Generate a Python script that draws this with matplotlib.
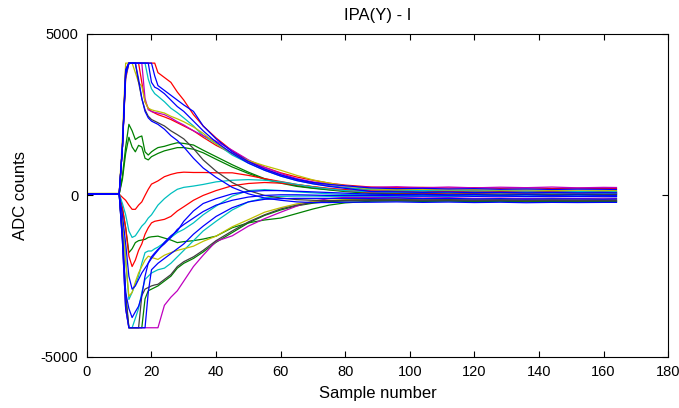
import numpy as np
import matplotlib
matplotlib.use('Agg')
import matplotlib.pyplot as plt

plt.rcParams['axes.unicode_minus'] = False
plt.rcParams['font.family'] = ['Liberation Sans', 'DejaVu Sans']

sample = [0, 10, 11, 12, 13, 14, 15, 16, 17, 18, 19, 20, 21, 22,
          24, 26, 28, 30, 33, 36, 40, 45, 50, 55, 60, 65, 70, 75, 80,
          88, 96, 104, 112, 120, 128, 136, 144, 152, 160, 164]

# positive traces (saturating at +4095)
red_hi = [40, 40, 1500, 3600, 4095, 4095, 4095, 4095, 4095, 4095, 4095, 4095, 4095, 3800,
          3650, 3500, 3200, 2950, 2500, 2150, 1780, 1380, 1080, 870, 700, 570, 470, 380, 320,
          260, 240, 250, 230, 240, 220, 235, 215, 225, 215, 210]
blue_hi = [50, 50, 1500, 3700, 4095, 4095, 4095, 4095, 4095, 4095, 4095, 4095, 3700, 3400,
           3250, 3100, 2950, 2800, 2600, 2150, 1750, 1350, 1050, 820, 640, 500, 400, 340, 300,
           230, 210, 220, 200, 210, 190, 200, 185, 195, 190, 185]
blue_hi2 = [50, 50, 1500, 3800, 4095, 4095, 4095, 4095, 4095, 4095, 4095, 3500, 3350, 3300,
            3150, 2950, 2750, 2600, 2300, 2000, 1650, 1300, 1000, 780, 600, 460, 360, 280, 220,
            120, 110, 95, 105, 85, 95, 80, 90, 80, 85, 80]
cyan_hi = [40, 40, 1500, 3700, 4095, 4095, 4095, 4095, 4095, 4095, 3600, 3300, 3150, 3070,
           2900, 2700, 2560, 2400, 2150, 1850, 1600, 1250, 1000, 780, 600, 460, 360, 290, 240,
           180, 165, 150, 160, 140, 150, 135, 145, 125, 135, 125]
mag_hi = [50, 50, 1500, 3800, 4095, 4095, 4095, 4095, 4095, 3000, 2650, 2600, 2570, 2550,
          2500, 2400, 2280, 2180, 2000, 1850, 1680, 1400, 1100, 870, 680, 520, 420, 350, 290,
          250, 270, 240, 260, 235, 255, 240, 260, 235, 250, 245]
yel_hi = [60, 60, 1800, 4095, 4095, 4095, 3800, 3500, 3380, 2900, 2700, 2650, 2620, 2600,
          2550, 2450, 2370, 2280, 2120, 1920, 1600, 1300, 1080, 920, 780, 620, 480, 380, 300,
          200, 180, 190, 170, 180, 165, 175, 155, 165, 160, 150]
red_mid = [50, 50, 1500, 3900, 4095, 4095, 4095, 4095, 3500, 2900, 2700, 2600, 2550, 2500,
           2430, 2350, 2250, 2150, 2000, 1800, 1550, 1300, 1050, 820, 630, 480, 380, 300, 240,
           170, 150, 160, 135, 145, 125, 135, 115, 125, 115, 115]
blue_fast = [40, 40, 1500, 3900, 4095, 4095, 4095, 3600, 3000, 2600, 2400, 2300, 2250, 2200,
             2050, 1850, 1700, 1500, 1150, 850, 560, 250, 50, -80, -150, -200, -220, -220, -210,
             -210, -200, -215, -205, -220, -210, -225, -215, -220, -215, -215]
black_fast = [50, 50, 1500, 3800, 4095, 4095, 4095, 3500, 3000, 2650, 2450, 2350, 2300, 2250,
              2150, 2000, 1880, 1750, 1450, 1100, 750, 400, 150, 0, -80, -130, -150, -160, -160,
              -150, -140, -155, -145, -160, -150, -165, -155, -165, -160, -165]
green_a = [50, 50, 600, 1500, 2200, 2000, 1730, 1800, 1840, 1350, 1250, 1350, 1420, 1480,
           1520, 1580, 1630, 1610, 1560, 1400, 1200, 950, 720, 520, 400, 300, 230, 180, 140,
           80, 65, 70, 55, 60, 45, 55, 40, 50, 40, 40]
green_b = [40, 40, 500, 1300, 1800, 1500, 1350, 1550, 1500, 1150, 1100, 1200, 1250, 1300,
           1380, 1430, 1480, 1480, 1430, 1320, 1120, 880, 680, 500, 380, 280, 220, 170, 120,
           60, 50, 45, 50, 35, 45, 30, 40, 30, 35, 30]
red_low = [40, 40, -60, -150, -300, -430, -430, -300, -200, 0, 190, 350, 400, 450,
           580, 650, 700, 720, 710, 710, 700, 700, 620, 520, 430, 340, 270, 200, 150,
           90, 80, 75, 70, 75, 60, 70, 55, 65, 55, 55]
cyan_low = [50, 50, -250, -600, -1100, -1300, -1250, -1100, -950, -850, -700, -600, -450, -300,
            -100, 60, 190, 250, 290, 340, 420, 470, 490, 470, 420, 340, 260, 200, 150,
            110, 95, 100, 85, 90, 75, 85, 70, 80, 70, 70]
red_neg = [50, 50, -400, -1000, -1880, -2200, -2000, -1700, -1500, -1200, -1000, -850, -800, -780,
           -740, -650, -480, -350, -150, 0, 150, 300, 370, 400, 380, 330, 270, 220, 180,
           140, 120, 130, 110, 120, 100, 110, 95, 105, 95, 95]

# negative traces (saturating at -4095)
blue_neg = [40, 40, -600, -1500, -2500, -2900, -2800, -2600, -2400, -2250, -2100, -1950, -1820, -1700,
            -1450, -1250, -1100, -800, -480, -250, -100, 50, 120, 150, 150, 130, 110, 90, 70,
            40, 25, 35, 20, 25, 10, 20, 5, 15, 5, 5]
cyan_neg = [50, 50, -800, -2000, -3220, -3000, -2750, -2500, -2100, -1770, -1720, -1720, -1650, -1600,
            -1460, -1300, -1150, -1050, -850, -600, -330, -20, 150, 180, 150, 110, 80, 50, 30,
            20, 10, 0, 10, -10, 0, -15, -5, -15, -5, -10]
green_neg = [50, 50, -400, -1000, -1770, -1650, -1460, -1400, -1380, -1360, -1300, -1280, -1270, -1260,
             -1320, -1380, -1460, -1430, -1400, -1350, -1260, -1000, -850, -760, -700, -560, -420, -300, -230,
             -180, -170, -185, -175, -190, -180, -195, -185, -195, -190, -195]
yel_neg = [60, 60, -800, -2000, -3120, -3000, -2680, -2400, -2200, -2000, -1880, -1920, -1950, -1980,
           -1850, -1770, -1700, -1650, -1570, -1420, -1260, -970, -750, -520, -380, -260, -190, -150, -130,
           -110, -100, -120, -110, -125, -115, -130, -120, -130, -125, -130]
black_neg = [50, 50, -1200, -3000, -4095, -4095, -4095, -4095, -3100, -2900, -2850, -2800, -2770, -2750,
             -2600, -2450, -2200, -2050, -1900, -1700, -1400, -1100, -820, -600, -420, -300, -220, -170, -150,
             -130, -125, -140, -130, -145, -135, -150, -140, -150, -145, -150]
green_sat = [40, 40, -1300, -3200, -4095, -4095, -4095, -4095, -4095, -3200, -2950, -2900, -2850, -2800,
             -2650, -2500, -2250, -2100, -1950, -1750, -1450, -1150, -850, -620, -450, -320, -240, -190, -170,
             -160, -155, -170, -160, -175, -165, -180, -170, -180, -175, -180]
blue_dip = [50, 50, -1200, -3000, -3500, -3780, -3600, -3430, -3100, -2500, -2090, -1900, -1780, -1670,
            -1500, -1300, -1050, -900, -700, -500, -300, -150, -50, 0, 20, 20, 10, 0, 0,
            0, -10, -20, -10, -30, -20, -35, -25, -35, -25, -30]
blue_sat = [40, 40, -1400, -3500, -4095, -4095, -4095, -4095, -4095, -4095, -3000, -2300, -2200, -2100,
            -1950, -1800, -1650, -1500, -1200, -950, -650, -380, -200, -120, -100, -90, -90, -90, -90,
            -90, -80, -100, -90, -110, -100, -115, -105, -110, -115, -110]
mag_neg = [50, 50, -1400, -3500, -4095, -4095, -4095, -4095, -4095, -4095, -4095, -4095, -4095, -4095,
           -3400, -3150, -2950, -2650, -2200, -1850, -1420, -1250, -950, -720, -520, -330, -180, -100, -60,
           -60, -70, -80, -70, -90, -80, -95, -85, -95, -85, -90]
cyan_sat = [40, 40, -1400, -3500, -4095, -4095, -3800, -3500, -3000, -2600, -2500, -2400, -2350, -2300,
            -2250, -2100, -1900, -1700, -1400, -1100, -800, -450, -200, -80, -30, -20, -20, -30, -30,
            -30, -40, -25, -35, -15, -25, -35, -40, -30, -40, -45]

b, g, r, c, m, y, k = '#0000ff', '#008000', '#ff0000', '#00bfbf', '#bf00bf', '#bfbf00', '#404040'

traces = [
    (green_a, g), (green_b, g), (green_neg, g), (green_sat, g),
    (red_hi, r), (red_mid, r), (red_low, r), (red_neg, r),
    (cyan_hi, c), (cyan_low, c), (cyan_neg, c), (cyan_sat, c),
    (mag_hi, m), (mag_neg, m),
    (yel_hi, y), (yel_neg, y),
    (black_fast, k), (black_neg, k),
    (blue_hi, b), (blue_hi2, b), (blue_neg, b), (blue_dip, b), (blue_sat, b), (blue_fast, b),
]

fig = plt.figure(figsize=(6.79, 4.08), dpi=100)
ax = fig.add_axes([0.128, 0.125, 0.856, 0.792])

for vals, col in traces:
    ax.plot(sample, vals, color=col, linewidth=0.9)

ax.set_xlim(0, 180)
ax.set_ylim(-5000, 5000)
ax.set_xticks(np.arange(0, 181, 20))
ax.set_yticks([-5000, 0, 5000])
ax.tick_params(direction='in', length=4, top=True, right=True, labelsize=10.5, pad=6)
for s in ax.spines.values():
    s.set_linewidth(0.8)

ax.set_title('IPA(Y) - I', fontsize=12, pad=10)
ax.set_xlabel('Sample number', fontsize=12, labelpad=5)
ax.set_ylabel('ADC counts', fontsize=12, labelpad=9)

fig.savefig('out.png', dpi=100)
